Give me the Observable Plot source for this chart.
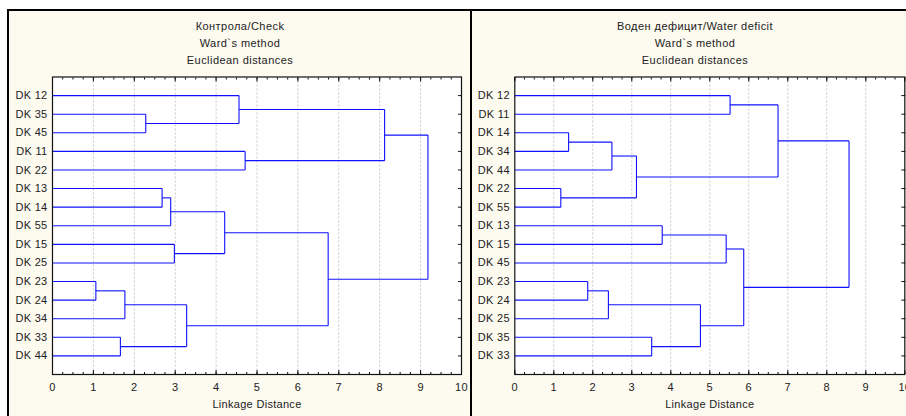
<!DOCTYPE html>
<html><head><meta charset="utf-8">
<script src="https://cdn.jsdelivr.net/npm/d3@7"></script>
<script src="https://cdn.jsdelivr.net/npm/@observablehq/plot@0.6"></script>
<style>
html,body{margin:0;padding:0;background:#fff;overflow:hidden;width:906px;height:416px}
#page{position:relative;width:906px;height:416px;overflow:hidden;font-family:"Liberation Sans",Arial,sans-serif}
.panel{position:absolute;background:#fdfaf0;border-top:2px solid #000;box-sizing:border-box}
.title{position:absolute;width:320px;text-align:center;font-size:11px;letter-spacing:0.45px;color:#222;line-height:17px;white-space:nowrap}
.chart{position:absolute}
.chart svg{max-width:none !important}
</style></head>
<body><div id="page">
<div class="panel" style="left:7px;top:9px;width:465px;height:420px;border-left:2px solid #000;border-right:2px solid #000"></div>
<div class="panel" style="left:472px;top:9px;width:460px;height:420px"></div>
<div class="title" id="t1" style="left:80px;top:18px"></div>
<div class="title" id="t2" style="left:535px;top:18px"></div>
<div class="chart" id="c1" style="left:9px;top:11px;width:461px"></div>
<div class="chart" id="c2" style="left:472px;top:11px;width:450px"></div>
</div>
<script>
// ---- data ----
const titleCheck = ["Контрола/Check", "Ward`s method", "Euclidean distances"];
const titleDeficit = ["Воден дефицит/Water deficit", "Ward`s method", "Euclidean distances"];
const xLabel = "Linkage Distance";
const xTicks = [0, 1, 2, 3, 4, 5, 6, 7, 8, 9, 10];

const leavesCheck = ["DK 12","DK 35","DK 45","DK 11","DK 22","DK 13","DK 14","DK 55","DK 15","DK 25","DK 23","DK 24","DK 34","DK 33","DK 44"];
// merges: [childA, childB, linkage distance]; numbers refer to earlier merges
const mergesCheck = [
  ["DK 35", "DK 45", 2.28],   // 0
  ["DK 12", 0, 4.56],         // 1
  ["DK 11", "DK 22", 4.71],   // 2
  [1, 2, 8.12],               // 3
  ["DK 13", "DK 14", 2.68],   // 4
  [4, "DK 55", 2.89],         // 5
  ["DK 15", "DK 25", 2.98],   // 6
  [5, 6, 4.21],               // 7
  ["DK 23", "DK 24", 1.06],   // 8
  [8, "DK 34", 1.77],         // 9
  ["DK 33", "DK 44", 1.66],   // 10
  [9, 10, 3.28],              // 11
  [7, 11, 6.74],              // 12
  [3, 12, 9.18]               // 13
];

const leavesDeficit = ["DK 12","DK 11","DK 14","DK 34","DK 44","DK 22","DK 55","DK 13","DK 15","DK 45","DK 23","DK 24","DK 25","DK 35","DK 33"];
const mergesDeficit = [
  ["DK 12", "DK 11", 5.52],   // 0
  ["DK 14", "DK 34", 1.38],   // 1
  [1, "DK 44", 2.49],         // 2
  ["DK 22", "DK 55", 1.18],   // 3
  [2, 3, 3.12],               // 4
  [0, 4, 6.75],               // 5
  ["DK 13", "DK 15", 3.78],   // 6
  [6, "DK 45", 5.42],         // 7
  ["DK 23", "DK 24", 1.87],   // 8
  [8, "DK 25", 2.40],         // 9
  ["DK 35", "DK 33", 3.51],   // 10
  [9, 10, 4.76],              // 11
  [7, 11, 5.87],              // 12
  [5, 12, 8.57]               // 13
];

// ---- build ----
function segments(leaves, merges) {
  const nodes = [];
  const pos = c => typeof c === "number" ? nodes[c] : {x: 0, y: leaves.indexOf(c)};
  const segs = [];
  for (const [a, b, h] of merges) {
    const A = pos(a), B = pos(b);
    segs.push({x1: A.x, y1: A.y, x2: h, y2: A.y});
    segs.push({x1: B.x, y1: B.y, x2: h, y2: B.y});
    segs.push({x1: h, y1: A.y, x2: h, y2: B.y});
    nodes.push({x: h, y: (A.y + B.y) / 2});
  }
  return segs;
}

function chart(leaves, merges, {width, height, marginLeft, marginRight, marginTop, marginBottom}) {
  const n = leaves.length;
  const rows = d3.range(n);
  const minor = d3.range(0, 10.001, 0.25);
  const nofmt = () => "";
  return Plot.plot({
    width, height, marginLeft, marginRight, marginTop, marginBottom,
    style: {background: "transparent", fontFamily: "'Liberation Sans', Arial, sans-serif", fontSize: "11px", letterSpacing: "0.3px", color: "#222", overflow: "visible", maxWidth: "none"},
    x: {domain: [0, 10], axis: null},
    y: {domain: [-1, n], reverse: true, axis: null},
    marks: [
      Plot.frame({fill: "white", stroke: null}),
      Plot.gridX(xTicks.slice(1, -1), {stroke: "#c8c8c8", strokeOpacity: 1, strokeDasharray: "2,2"}),
      Plot.link(segments(leaves, merges), {x1: "x1", y1: "y1", x2: "x2", y2: "y2", stroke: "#1010ff", strokeWidth: 1.1}),
      Plot.frame({stroke: "#111", strokeWidth: 1.2}),
      Plot.axisY(rows, {anchor: "left", tickSize: 0, tickPadding: 5, tickFormat: i => leaves[i], label: null, fill: "#222"}),
      Plot.axisY(rows, {anchor: "right", tickSize: -4, tickFormat: nofmt, label: null, stroke: "#111"}),
      Plot.axisX(xTicks, {anchor: "bottom", tickSize: -4, tickFormat: nofmt, label: null, stroke: "#111"}),
      Plot.axisX(minor, {anchor: "bottom", tickSize: -2, tickFormat: nofmt, label: null, stroke: "#111"}),
      Plot.axisX(xTicks, {anchor: "top", tickSize: -4, tickFormat: nofmt, label: null, stroke: "#111"}),
      Plot.axisX(minor, {anchor: "top", tickSize: -2, tickFormat: nofmt, label: null, stroke: "#111"}),
      Plot.axisX(xTicks, {anchor: "bottom", tickSize: 0, tickPadding: 9, label: null, fill: "#222"}),
      Plot.text([xLabel], {frameAnchor: "bottom", dy: 33, fill: "#222", fontSize: 11})
    ]
  });
}

document.getElementById("t1").innerHTML = titleCheck.map(t => `<div>${t}</div>`).join("");
document.getElementById("t2").innerHTML = titleDeficit.map(t => `<div>${t}</div>`).join("");

document.getElementById("c1").append(chart(leavesCheck, mergesCheck,
  {width: 461, height: 405, marginLeft: 43, marginRight: 9, marginTop: 65.5, marginBottom: 42}));
document.getElementById("c2").append(chart(leavesDeficit, mergesDeficit,
  {width: 450, height: 405, marginLeft: 42.3, marginRight: 17.7, marginTop: 65.5, marginBottom: 42}));
</script>
</body></html>
